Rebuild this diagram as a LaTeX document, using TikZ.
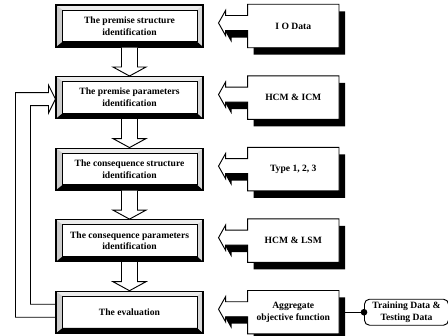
\documentclass[tikz,border=0pt]{standalone}
\usepackage{fontspec}
\setmainfont{Liberation Serif}
\usetikzlibrary{positioning,calc,shadows,backgrounds}

\newcommand{\boxfont}{\fontsize{8.2}{10}\selectfont\bfseries}

\begin{document}
\begin{tikzpicture}[
  x=0.03cm, y=-0.03cm,
  node distance=0.855cm and 1.32cm,
  font=\boxfont,
  bevelbox/.style={draw, line width=0.9pt, fill=white, minimum width=4.41cm,
    minimum height=1.26cm, inner sep=1pt, align=center,
    path picture={
      \coordinate (pnw) at (path picture bounding box.north west);
      \coordinate (pne) at (path picture bounding box.north east);
      \coordinate (pse) at (path picture bounding box.south east);
      \coordinate (psw) at (path picture bounding box.south west);
      \fill[gray!15] (pnw) -- (pne) -- ([shift={(-0.18cm,-0.15cm)}]pne) -- ([shift={(0.2cm,-0.15cm)}]pnw) -- cycle;
      \fill[gray!40] (pnw) -- ([shift={(0.2cm,-0.15cm)}]pnw) -- ([shift={(0.2cm,0.16cm)}]psw) -- (psw) -- cycle;
      \fill[gray!30] (pne) -- ([shift={(-0.18cm,-0.15cm)}]pne) -- ([shift={(-0.18cm,0.16cm)}]pse) -- (pse) -- cycle;
      \fill[black] (psw) -- ([shift={(0.2cm,0.16cm)}]psw) -- ([shift={(-0.18cm,0.16cm)}]pse) -- (pse) -- cycle;
      \draw[line width=0.5pt] ([shift={(0.2cm,-0.15cm)}]pnw) rectangle ([shift={(-0.18cm,0.16cm)}]pse);
    }},
  callbox/.style={minimum width=2.73cm, minimum height=1.29cm, align=center},
  callshape/.style={draw, line width=0.8pt, fill=white,
    drop shadow={shadow xshift=0.18cm, shadow yshift=-0.21cm, fill=black, opacity=1}},
  blockarrow/.style={draw, line width=0.8pt, fill=white, line join=miter},
  databox/.style={draw, line width=0.8pt, rounded corners=0.15cm, minimum width=2.52cm,
    minimum height=0.78cm, align=center, inner sep=1pt}
]
\useasboundingbox (0,0) rectangle (448,335);

% left column
\node[bevelbox] (prs) at (129.5,26) {The premise structure\\identification};
\node[bevelbox, below=of prs] (prp) {The premise parameters\\identification};
\node[bevelbox, below=of prp] (cst) {The consequence structure\\identification};
\node[bevelbox, below=of cst] (cpa) {The consequence parameters\\identification};
\node[bevelbox, below=of cpa] (eva) {The evaluation};

% right column
\node[callbox, right=of prs] (iod) {I O Data};
\node[callbox, right=of prp] (hci) {HCM \& ICM};
\node[callbox, right=of cst] (typ) {Type 1, 2, 3};
\node[callbox, right=of cpa] (hcl) {HCM \& LSM};
\node[callbox, right=of eva] (agg) {Aggregate\\objective function};
\node[databox, right=0.75cm of agg] (trd) {Training Data \&\\Testing Data};

\begin{scope}[on background layer]
\draw[line width=0.8pt] (agg.east) -- (trd.west);
\foreach \n in {iod,hci,typ,hcl,agg}
  \draw[callshape] (\n.south west) -- ($(\n.west)+(0,4.5)$) -- ($(\n.west)+(-22,4.5)$)
    -- ($(\n.west)+(-22,9.5)$) -- ($(\n.west)+(-29,-3)$) -- ($(\n.west)+(-22,-15.5)$)
    -- ($(\n.west)+(-22,-10.5)$) -- ($(\n.west)+(0,-10.5)$) -- (\n.north west)
    -- (\n.north east) -- (\n.south east) -- cycle;
\end{scope}
\fill (trd.west) circle (0.1cm);

% down arrows
\foreach \a/\b in {prs/prp, prp/cst, cst/cpa, cpa/eva}
  \draw[blockarrow] ($(\a.south)+(-8,0)$) -- ($(\b.north)+(-8,-9)$) -- ($(\b.north)+(-16.5,-9)$)
    -- (\b.north) -- ($(\b.north)+(16.5,-9)$) -- ($(\b.north)+(8,-9)$) -- ($(\a.south)+(8,0)$);

% feedback
\draw[blockarrow, fill=none] ($(eva.west)+(0,5)$) -- ($(eva.west)+(-40,5)$) -- ($(prp.west)+(-40,-5)$)
  -- ($(prp.west)+(-7,-5)$) -- ($(prp.west)+(-7,-12.5)$) -- ($(prp.west)+(0,1.5)$)
  -- ($(prp.west)+(-7,15.5)$) -- ($(prp.west)+(-7,8)$) -- ($(prp.west)+(-25,8)$)
  -- ($(eva.west)+(-25,-8)$) -- ($(eva.west)+(0,-8)$);

\end{tikzpicture}
\end{document}
